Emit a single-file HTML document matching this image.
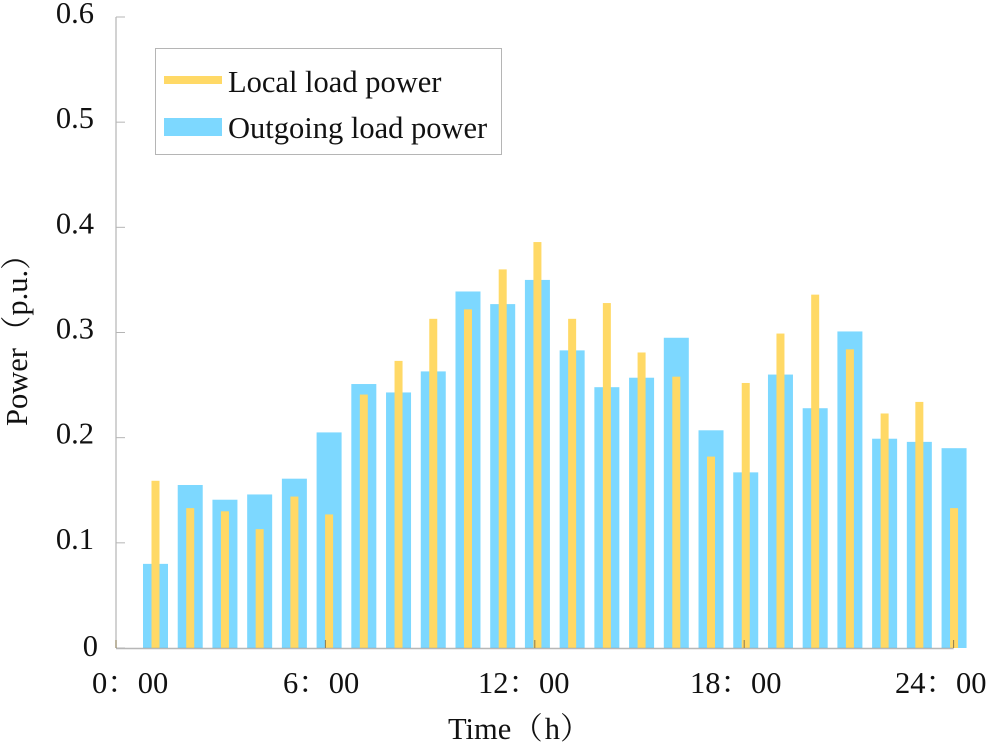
<!DOCTYPE html>
<html lang="en">
<head>
<meta charset="utf-8">
<title>Local and outgoing load power</title>
<style>
html,body{margin:0;padding:0;background:#fff;width:990px;height:745px;overflow:hidden}
svg{display:block;filter:blur(0.35px)}
text{font-family:"Liberation Serif","Noto Serif CJK SC",serif;fill:#111;font-size:30.5px}
</style>
</head>
<body>
<svg id="chart" width="990" height="745" viewBox="0 0 990 745" xmlns="http://www.w3.org/2000/svg">
<g id="bars-outgoing"></g>
<g id="bars-local"></g>
<g id="axes"></g>
<g id="y-labels"></g>
<g id="x-labels">
<text x="92" y="693">0：00</text>
<text x="283" y="693">6：00</text>
<text x="478" y="693">12：00</text>
<text x="690" y="693">18：00</text>
<text x="895" y="693">24：00</text>
</g>
<text x="448" y="739">Time<tspan dx="1">（</tspan><tspan dx="2">h</tspan><tspan>）</tspan></text>
<text transform="translate(27,426) rotate(-90)">Power<tspan dx="2">（</tspan>p.u.<tspan>）</tspan></text>
<g>
<rect x="155.5" y="48.5" width="346" height="106" fill="#fff" stroke="#b5b5b5" stroke-width="1"/>
<rect x="164" y="76" width="58" height="8" fill="#ffd966"/>
<text x="228" y="92">Local load power</text>
<rect x="164" y="118" width="58" height="18" fill="#7dd8ff"/>
<text x="228" y="138">Outgoing load power</text>
</g>
</svg>
<script>
const outgoingLoad = [0.08,0.155,0.141,0.146,0.161,0.205,0.251,0.243,0.263,0.339,0.327,0.35,0.283,0.248,0.257,0.295,0.207,0.167,0.26,0.228,0.301,0.199,0.196,0.19];
const localLoad = [0.159,0.133,0.13,0.113,0.144,0.127,0.241,0.273,0.313,0.322,0.36,0.386,0.313,0.328,0.281,0.258,0.182,0.252,0.299,0.336,0.284,0.223,0.234,0.133];
const yTickValues = [0,0.1,0.2,0.3,0.4,0.5,0.6];
const yTickLabels = ["0","0.1","0.2","0.3","0.4","0.5","0.6"];
const xTickHours = [0,6,12,18,24];

const NS = "http://www.w3.org/2000/svg";
const yScale = v => 648 - v * (631 / 0.6);
const barCenter = i => 155.5 + i * 34.72;
const hourScale = h => 116 + h * (837.6 / 24);

function make(tag, attrs, parent) {
  const el = document.createElementNS(NS, tag);
  for (const k in attrs) el.setAttribute(k, attrs[k]);
  parent.appendChild(el);
  return el;
}

const gOut = document.getElementById("bars-outgoing");
outgoingLoad.forEach((v, i) => {
  const r = make("rect", {x: barCenter(i) - 12.5, y: yScale(v), width: 25, height: yScale(0) - yScale(v), fill: "#7dd8ff"}, gOut);
  
  
});

const gLocal = document.getElementById("bars-local");
localLoad.forEach((v, i) => {
  const r = make("rect", {x: barCenter(i) - 4, y: yScale(v), width: 8, height: yScale(0) - yScale(v), fill: "#ffd966"}, gLocal);
  
  
});

const gAxes = document.getElementById("axes");
const yAxisLine = make("line", {x1: 116, y1: yScale(0.6), x2: 116, y2: yScale(0), stroke: "#b5b5b5", "stroke-width": 1.2}, gAxes);


const xAxisLine = make("line", {x1: 116, y1: 648.5, x2: hourScale(24), y2: 648.5, stroke: "#999", "stroke-opacity": 0.7, "stroke-width": 1.4}, gAxes);



const gY = document.getElementById("y-labels");
yTickValues.forEach((v, i) => {
  const t = make("line", {x1: 116, x2: 125, y1: yScale(v), y2: yScale(v), stroke: "#b5b5b5", "stroke-width": 1}, gAxes);
  
  
  const l = make("text", {x: v === 0 ? 98 : 94, y: yScale(v) + (v === 0 ? 8 : 6), "text-anchor": "end"}, gY);
  l.textContent = yTickLabels[i];
  
  
});

xTickHours.forEach(h => {
  const t = make("line", {x1: hourScale(h), x2: hourScale(h), y1: 640, y2: 648, stroke: "#8a7a50", "stroke-width": 1}, gAxes);
  
  
});
</script>
</body>
</html>
